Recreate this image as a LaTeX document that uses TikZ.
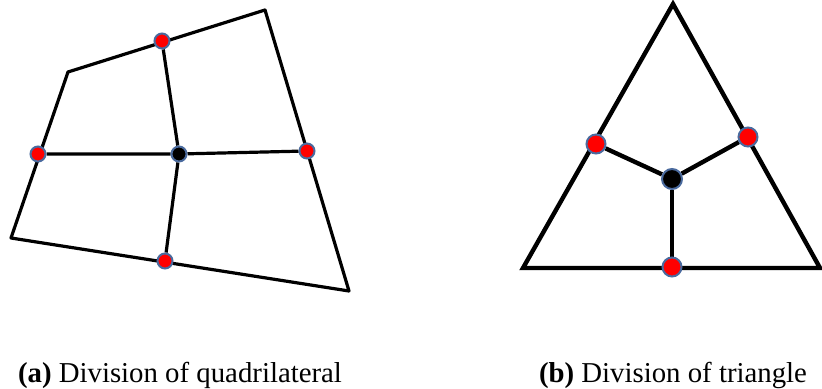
\documentclass[tikz,border=0pt]{standalone}
\usepackage{fontspec}
\setmainfont{Liberation Serif}
\newfontfamily\capfont{Liberation Serif}
\usepackage{xcolor}
\usepackage{tikz}
\usetikzlibrary{positioning, backgrounds}

\definecolor{rimblue}{HTML}{4A6A9E}

\begin{document}
\begin{tikzpicture}[
    x=0.5pt, y=-0.5pt,
    edge_line/.style={line width=1.6pt, line join=round, black},
    node_mid/.style={circle, fill=red, draw=rimblue, line width=1pt, inner sep=0pt, minimum size=7.5pt},
    node_center/.style={circle, fill=black, draw=rimblue, line width=1pt, inner sep=0pt, minimum size=7.5pt},
    node_caption/.style={anchor=base, inner sep=0pt, font=\capfont\fontsize{14.4}{17}\selectfont}
]
\useasboundingbox (0,0) rectangle (822,389);

% (a) quadrilateral
\coordinate (Q1) at (68,72);
\coordinate (Q2) at (265,10);
\coordinate (Q3) at (349,291);
\coordinate (Q4) at (11,238);
\node[node_mid]    (QT) at (162,41)  {};
\node[node_mid]    (QR) at (307,151) {};
\node[node_mid]    (QB) at (165,261) {};
\node[node_mid]    (QL) at (38,154)  {};
\node[node_center] (QC) at (179,154) {};
\begin{scope}[on background layer]
\draw[edge_line] (Q1) -- (Q2) -- (Q3) -- (Q4) -- cycle;
\draw[edge_line] (QT) -- (QC) -- (QB);
\draw[edge_line] (QL) -- (QC) -- (QR);
\end{scope}

% (b) triangle
\coordinate (T1) at (673,4);
\coordinate (T2) at (820,268);
\coordinate (T3) at (523,268);
\node[node_mid, minimum size=9.5pt]    (TL) at (596,144) {};
\node[node_mid, minimum size=9.5pt]    (TR) at (748,137) {};
\node[node_mid, minimum size=9.5pt]    (TB) at (672,267) {};
\node[node_center, minimum size=10pt]  (TC) at (672,179) {};
\begin{scope}[on background layer]
\draw[edge_line, line width=2.2pt, line join=miter] (T1) -- (T2) -- (T3) -- cycle;
\draw[edge_line, line width=2.2pt] (TL) -- (TC) -- (TR);
\draw[edge_line, line width=2.2pt] (TC) -- (TB);
\end{scope}

% captions
\node[node_caption] (capA) at (180,382) {\textbf{(a)} Division of quadrilateral};
\node[node_caption] (capB) at (673,382) {\textbf{(b)} Division of triangle};
\end{tikzpicture}
\end{document}
